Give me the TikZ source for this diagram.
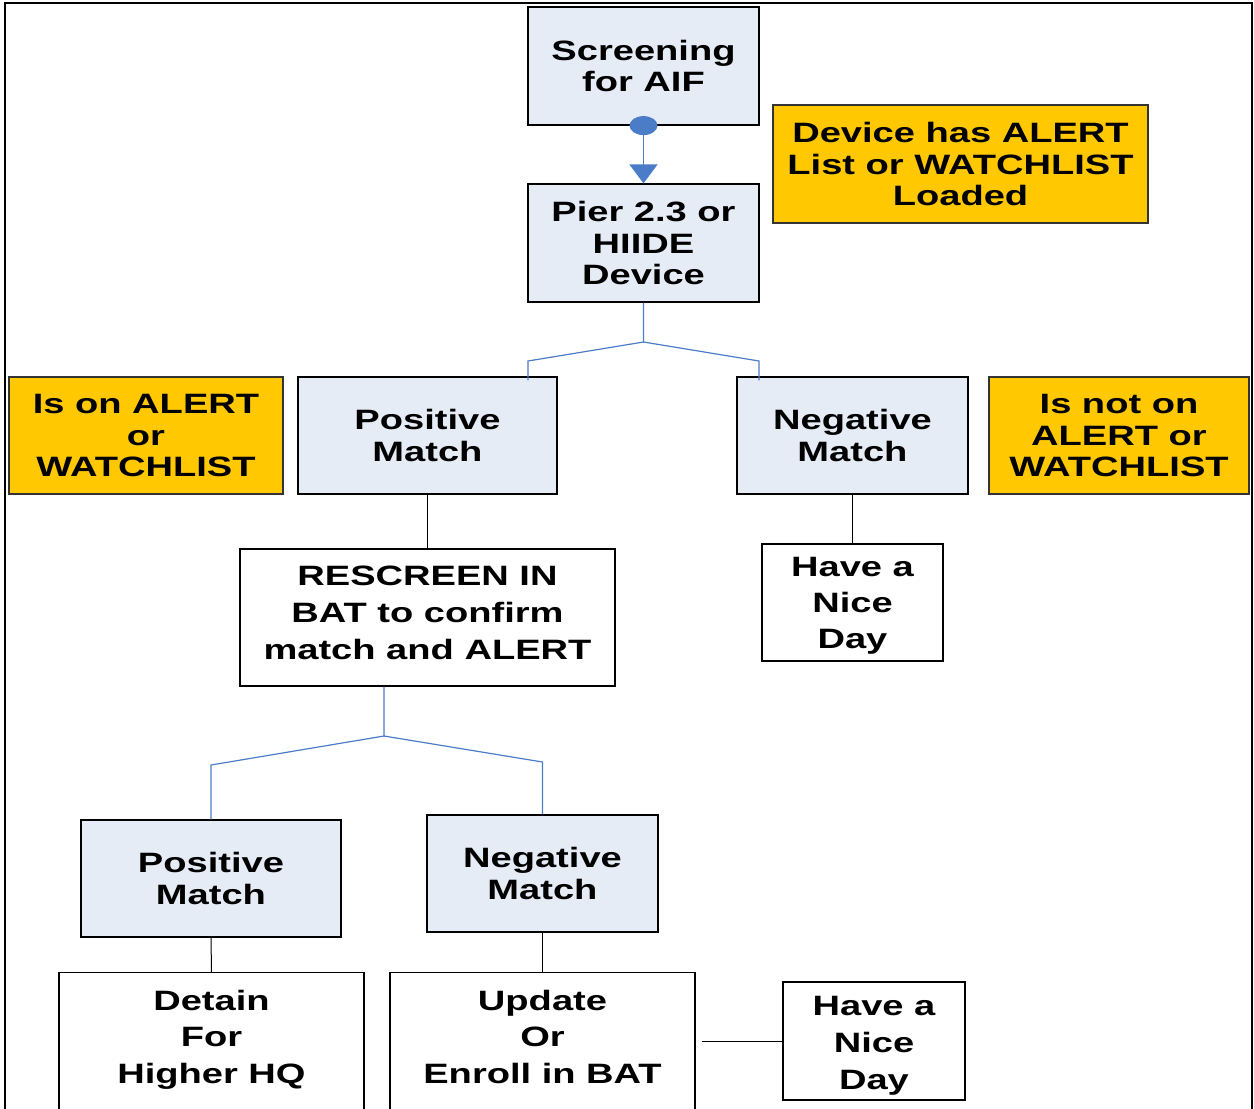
\documentclass[tikz,border=0pt]{standalone}
\usepackage{fontspec}
\setmainfont{Liberation Sans}[FakeStretch=1.36]
\usetikzlibrary{arrows.meta,calc}
\definecolor{boxblue}{HTML}{E6ECF6}
\definecolor{gold}{HTML}{FFC800}
\definecolor{linkblue}{HTML}{4A7CC7}
\tikzset{
  base/.style={draw=black, line width=0.6pt, align=center, inner sep=0pt,
    font=\bfseries\fontsize{14}{15.7}\selectfont},
  bluebox/.style={base, fill=boxblue},
  goldbox/.style={base, fill=gold, draw=black!80},
  whitebox/.style={base, fill=white},
  blueline/.style={draw=linkblue, line width=0.6pt},
  blackline/.style={draw=black, line width=0.5pt},
}
\begin{document}
\begin{tikzpicture}[x=0.5pt, y=-0.5pt]
\useasboundingbox (0,0) rectangle (1254,1109);
\clip (0,0) rectangle (1254,1109);
% outer frame
\draw[line width=1.3pt] (5,1115) -- (5,3) -- (1252,3) -- (1252,1115);

\node[bluebox, minimum width=115.5pt, minimum height=59pt] (screen) at (643.5,66) {Screening\\for AIF};
\node[bluebox, minimum width=115.5pt, minimum height=59pt] (pier) at (643.5,243) {Pier 2.3 or\\HIIDE\\Device};
\node[goldbox, minimum width=187.5pt, minimum height=59pt] (device) at (960.5,164) {Device has ALERT\\List or WATCHLIST\\Loaded};

\node[goldbox, minimum width=137pt, minimum height=58.5pt] (ison) at (146,435.5) {Is on ALERT\\or\\WATCHLIST};
\node[bluebox, minimum width=129.5pt, minimum height=58.5pt] (pos1) at (427.5,435.5) {Positive\\Match};
\node[bluebox, minimum width=115.5pt, minimum height=58.5pt] (neg1) at (852.5,435.5) {Negative\\Match};
\node[goldbox, minimum width=130pt, minimum height=58.5pt] (isnot) at (1119,435.5) {Is not on\\ALERT or\\WATCHLIST};

\node[whitebox, minimum width=187.5pt, minimum height=68.5pt,
  font=\bfseries\fontsize{14}{18.5}\selectfont] (rescreen) at (427.5,617.5) {RESCREEN IN\\BAT to confirm\\match and ALERT\rule[-5pt]{0pt}{5pt}};
\node[whitebox, minimum width=90.5pt, minimum height=58.5pt,
  font=\bfseries\fontsize{14}{18}\selectfont] (nice1) at (852.5,602.5) {\rule{0pt}{13.2pt}Have a\\Nice\\Day};

\node[bluebox, minimum width=130pt, minimum height=58.5pt] (pos2) at (211,878.5) {Positive\\Match};
\node[bluebox, minimum width=115.5pt, minimum height=58.5pt] (neg2) at (542.5,873.5) {Negative\\Match};

\node[whitebox, anchor=north, minimum width=152.5pt, minimum height=82pt,
  font=\bfseries\fontsize{14}{18.25}\selectfont] (detain) at (211.5,972) {Detain\\For\\Higher HQ\\\mbox{}};
\node[whitebox, anchor=north, minimum width=152.5pt, minimum height=82pt,
  font=\bfseries\fontsize{14}{18.25}\selectfont] (update) at (542.5,972) {Update\\Or\\Enroll in BAT\\\mbox{}};
\node[whitebox, minimum width=91pt, minimum height=59pt,
  font=\bfseries\fontsize{14}{18.5}\selectfont] (nice2) at (874,1041) {\rule{0pt}{14pt}Have a\\Nice\\Day};

% top connector
\draw[blueline, -{Triangle[width=14pt,length=9.5pt]}] (screen.south) -- (pier.north);
\fill[linkblue] (screen.south) ellipse (7pt and 4.75pt);

% branch 1
\coordinate (b1) at (643.5,342);
\draw[blueline] (pier.south) -- (b1) -- (528,361) -- ($(pos1.north)+(100.5,4)$);
\draw[blueline] (b1) -- (759,361) -- ($(neg1.north)+(-93.5,4)$);

\draw[blackline] (pos1.south) -- (rescreen.north);
\draw[blackline] (neg1.south) -- (nice1.north);

% branch 2
\coordinate (r0) at ($(rescreen.south)+(-43.5,0)$);
\coordinate (b2) at (384,736);
\draw[blueline] (r0) -- (b2) -- (211,765) -- (pos2.north);
\draw[blueline] (b2) -- (542.5,762) -- (neg2.north);

\draw[blackline] (pos2.south) -- (detain.north);
\draw[blackline] (neg2.south) -- (update.north);
\draw[blackline] ($(update.east |- nice2.west)+(6,0)$) -- (nice2.west);
\end{tikzpicture}
\end{document}
